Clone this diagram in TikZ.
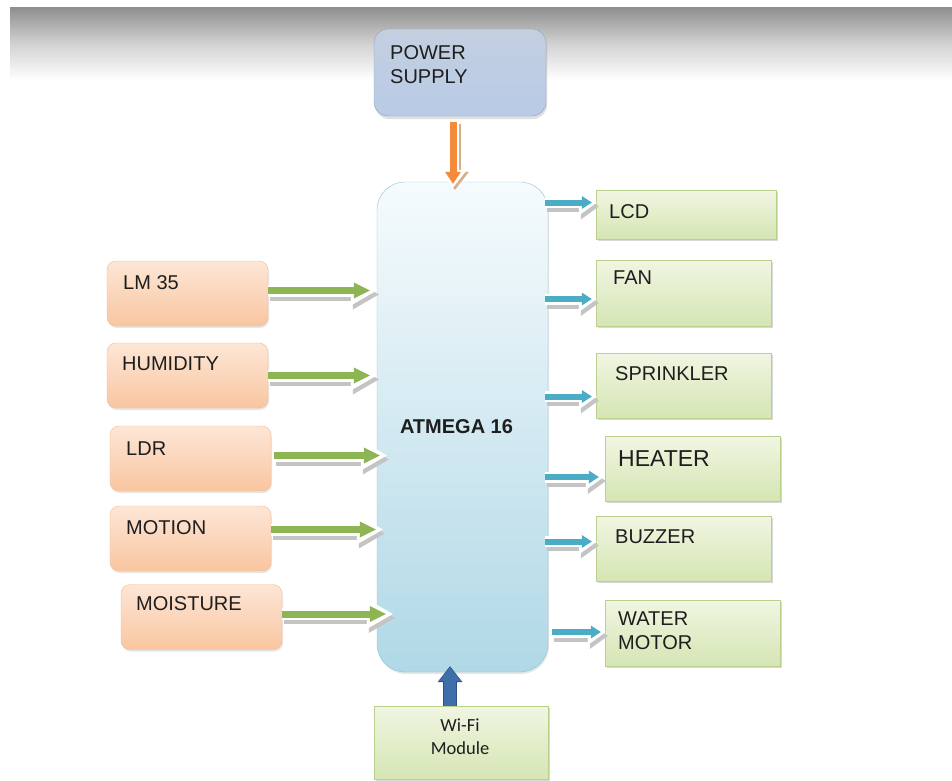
\documentclass[tikz,border=0pt]{standalone}
\usepackage{fontspec}
\setmainfont{Liberation Sans}
\newfontfamily\wififont{Carlito}
\usepackage{tikz}
\usetikzlibrary{arrows.meta, positioning, calc, shadows}
\definecolor{BandGray}{HTML}{8E8E8E}
\definecolor{TextGray}{HTML}{1E1E1E}
\definecolor{SupplyTop}{HTML}{C4CFE0}
\definecolor{SupplyBottom}{HTML}{B8CBE6}
\definecolor{SupplyLine}{HTML}{8AA0BF}
\definecolor{McuTop}{HTML}{F6FBFD}
\definecolor{McuBottom}{HTML}{B0D8E6}
\definecolor{McuLine}{HTML}{86C5DA}
\definecolor{SensorTop}{HTML}{FDE6D6}
\definecolor{SensorBottom}{HTML}{F9C6A0}
\definecolor{SensorLine}{HTML}{F5B98E}
\definecolor{ActorTop}{HTML}{F0F6E2}
\definecolor{ActorBottom}{HTML}{D5E5B3}
\definecolor{ActorLine}{HTML}{B9D18C}
\definecolor{GreenArrow}{HTML}{8DB554}
\definecolor{BlueArrow}{HTML}{4BACC6}
\definecolor{OrangeArrow}{HTML}{F58A3A}
\definecolor{WifiArrow}{HTML}{3E6FAA}
\definecolor{WifiEdge}{HTML}{2C5283}
\definecolor{ArrowShadow}{HTML}{C4C4C4}
\tikzset{
  % Box styles
  supplybox/.style={rectangle, rounded corners=14pt, draw=SupplyLine, top color=SupplyTop, bottom color=SupplyBottom, minimum width=172pt, minimum height=87pt, drop shadow={shadow xshift=1pt, shadow yshift=-3pt, opacity=0.25}},
  mcubox/.style={rectangle, rounded corners=28pt, draw=McuLine, top color=McuTop, bottom color=McuBottom, minimum width=171pt, minimum height=490pt, drop shadow={shadow xshift=1pt, shadow yshift=-2pt, opacity=0.2}},
  sensorbox/.style={rectangle, rounded corners=9pt, draw=SensorLine, top color=SensorTop, bottom color=SensorBottom, minimum width=161pt, minimum height=65pt, drop shadow={shadow xshift=1pt, shadow yshift=-2pt, opacity=0.2}},
  actorbox/.style={rectangle, draw=ActorLine, top color=ActorTop, bottom color=ActorBottom, minimum width=175pt, minimum height=65pt, drop shadow={shadow xshift=2pt, shadow yshift=-2pt, opacity=0.3}},
  % Text styles
  boxlabel/.style={font=\fontsize{20}{24}\selectfont, text=TextGray, anchor=north west, inner sep=0pt, align=left},
  % Arrow styles
  greenarrow/.style={draw=GreenArrow, line width=7pt, -{Triangle[width=16pt,length=16pt,line width=0pt]},
    preaction={draw=ArrowShadow, line width=12pt, shorten >=-7pt, -{Triangle[width=30pt,length=26pt,line width=0pt]}, transform canvas={shift={(2pt,-4pt)}}},
    preaction={draw=white, line width=12pt, shorten >=-7pt, -{Triangle[width=30pt,length=26pt,line width=0pt]}}},
  bluearrow/.style={draw=BlueArrow, line width=6pt, -{Triangle[width=13pt,length=10pt,line width=0pt]},
    preaction={draw=ArrowShadow, line width=11pt, shorten >=-5pt, -{Triangle[width=26pt,length=18pt,line width=0pt]}, transform canvas={shift={(2pt,-4pt)}}},
    preaction={draw=white, line width=11pt, shorten >=-5pt, -{Triangle[width=26pt,length=18pt,line width=0pt]}}},
  orangearrow/.style={draw=OrangeArrow, line width=7pt, -{Triangle[width=16pt,length=12pt,line width=0pt]},
    preaction={draw=ArrowShadow!70!orange, line width=12pt, shorten >=-4pt, -{Triangle[width=28pt,length=18pt,line width=0pt]}, transform canvas={shift={(2pt,-2pt)}}},
    preaction={draw=white, line width=12pt, shorten >=-4pt, -{Triangle[width=28pt,length=18pt,line width=0pt]}}},
  wifiarrow/.style={draw=WifiArrow, line width=12pt, -{Triangle[width=22pt,length=14pt,line width=0pt]},
    preaction={draw=WifiEdge, line width=14pt, shorten >=-1pt, -{Triangle[width=25pt,length=16pt,line width=0pt]}}}
}

\begin{document}
\begin{tikzpicture}[x=1pt, y=-1pt]
  \useasboundingbox (0,0) rectangle (952,780);
  % Gray band on top
  \shade[top color=BandGray, bottom color=white, middle color=BandGray!40!white] (10,7) rectangle (952,80);

  % Power supply and controller
  \node[supplybox] (supply) at (460,72.5) {};
  \node[boxlabel] (supplytxt) at (390,45) {POWER\\SUPPLY};
  \node[mcubox] (mcu) at (462.5,427) {};
  \node[font=\bfseries\fontsize{20}{24}\selectfont, text=TextGray] (mcutxt) at (456.5,426.5) {ATMEGA 16};

  % Sensors
  \node[sensorbox] (lm35) at (187.5,293.5) {};
  \node[boxlabel] (lm35txt) at (123,275) {LM 35};
  \node[sensorbox] (humid) at (187.5,375.5) {};
  \node[boxlabel] (humidtxt) at (122,357) {HUMIDITY};
  \node[sensorbox] (ldr) at (190.5,458.5) {};
  \node[boxlabel] (ldrtxt) at (126,442) {LDR};
  \node[sensorbox] (motion) at (190.5,538.5) {};
  \node[boxlabel] (motiontxt) at (126,520) {MOTION};
  \node[sensorbox] (moist) at (201.5,617) {};
  \node[boxlabel] (moisttxt) at (136,596) {MOISTURE};

  % Outputs
  \node[actorbox, minimum width=180pt, minimum height=49pt] (lcd) at (686,214.5) {};
  \node[boxlabel] (lcdtxt) at (609,204) {LCD};
  \node[actorbox, minimum height=66pt] (fan) at (683.5,293) {};
  \node[boxlabel] (fantxt) at (613,271) {FAN};
  \node[actorbox] (sprink) at (683.5,385.5) {};
  \node[boxlabel] (sprinktxt) at (615,366) {SPRINKLER};
  \node[actorbox] (heater) at (692.5,468.5) {};
  \node[boxlabel, font=\fontsize{23}{27}\selectfont] (heatertxt) at (618,450) {HEATER};
  \node[actorbox] (buzzer) at (683.5,548.5) {};
  \node[boxlabel] (buzzertxt) at (615,530) {BUZZER};
  \node[actorbox, minimum height=66pt] (water) at (692.5,633) {};
  \node[boxlabel] (watertxt) at (618,612) {WATER\\MOTOR};

  % Wi-Fi
  \node[actorbox, minimum width=174pt, minimum height=73pt, drop shadow={opacity=0}] (wifi) at (461,742.5) {};
  \node[font=\wififont\fontsize{18.5}{23}\selectfont, text=TextGray, align=center, anchor=north, inner sep=0pt] (wifitxt) at (460,719) {Wi-Fi\\Module};

  % Connectors
  \draw[orangearrow] ($(supply.south)+(-7,6)$) coordinate (pwrstart) -- ($(pwrstart |- mcu.north)+(0,2)$);
  \draw[greenarrow] ($(lm35.east)+(0,-3)$) -- ($(lm35.east -| mcu.west)+(-7,-3)$);
  \draw[greenarrow] (humid.east) -- ($(humid.east -| mcu.west)+(-7,0)$);
  \draw[greenarrow] ($(ldr.east)+(3,-3)$) -- ($(ldr.east -| mcu.west)+(3,-3)$);
  \draw[greenarrow] ($(motion.east)+(0,-9)$) -- ($(motion.east -| mcu.west)+(-1,-9)$);
  \draw[greenarrow] ($(moist.east)+(0,-3)$) -- ($(moist.east -| mcu.west)+(9,-3)$);
  \draw[bluearrow] ($(lcd.west -| mcu.east)+(-3,-12)$) -- ($(lcd.west)+(-4,-12)$);
  \draw[bluearrow] ($(fan.west -| mcu.east)+(-3,6)$) -- ($(fan.west)+(-4,6)$);
  \draw[bluearrow] ($(sprink.west -| mcu.east)+(-3,11)$) -- ($(sprink.west)+(-4,11)$);
  \draw[bluearrow] ($(heater.west -| mcu.east)+(-3,8.5)$) -- ($(heater.west)+(-6,8.5)$);
  \draw[bluearrow] ($(buzzer.west -| mcu.east)+(-3,-7)$) -- ($(buzzer.west)+(-4,-7)$);
  \draw[bluearrow] ($(water.west -| mcu.east)+(4,-1)$) -- ($(water.west)+(-4,-1)$);
  \draw[wifiarrow] ($(wifi.north)+(-11,0)$) -- ($(wifi.north |- mcu.south)+(-11,-5)$);
\end{tikzpicture}
\end{document}
